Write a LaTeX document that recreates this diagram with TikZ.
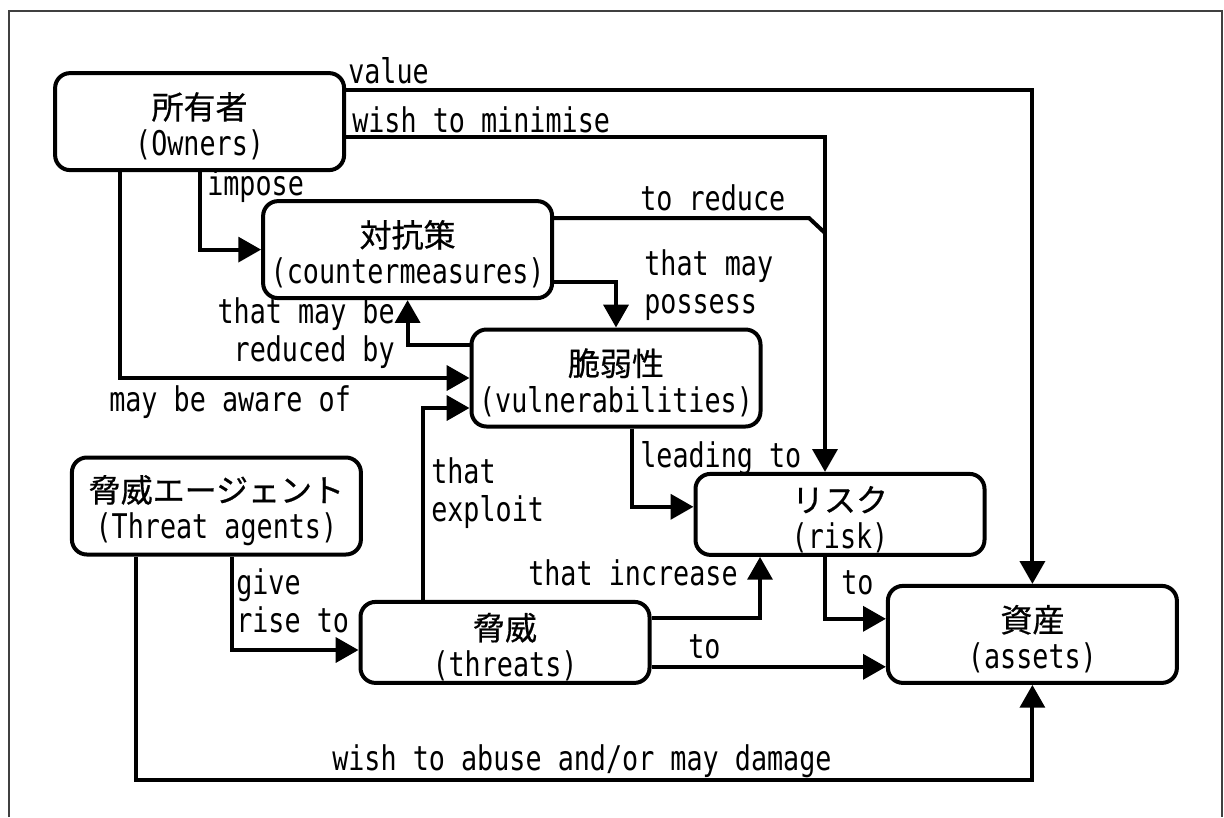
\documentclass[tikz,border=0pt]{standalone}
\usepackage{fontspec}
\newfontfamily\jafont[FakeBold=0.6]{Noto Sans CJK JP}
\newfontfamily\lafont[FakeStretch=0.787]{DejaVu Sans Mono}
\newcommand\ja[1]{\rule{0pt}{0.9cm}{\jafont\fontsize{22.76pt}{26pt}\selectfont #1}}
\usepackage{tikz}
\usetikzlibrary{shapes.geometric, arrows, calc, positioning, arrows.meta}
\tikzstyle{entity} = [draw=black, line width=0.1cm, rounded corners=0.375cm, minimum width=7.225cm, minimum height=2.425cm, inner sep=0pt, align=center, font=\lafont\fontsize{24.18pt}{26pt}\selectfont]
\tikzstyle{flat} = [entity, minimum height=2.025cm]
\tikzstyle{lbl} = [inner sep=0pt, font=\lafont\fontsize{24.18pt}{27pt}\selectfont]
\tikzstyle{line} = [line width=0.1cm]
\tikzstyle{arrow} = [line, -{Triangle[length=0.57cm, width=0.62cm]}]

\begin{document}
\begin{tikzpicture}
	\useasboundingbox (0,0) rectangle (30.6,-20.425);
	\draw[line width=0.05cm, black!75] (0.22,-20.425) -- (0.22,-0.275) -- (30.56,-0.275) -- (30.56,-20.425);

	\node[entity] (owners) at (4.99,-3.04) {\ja{所有者}\\(Owners)};
	\node[entity] (measures) at (10.19,-6.24) {\ja{対抗策}\\(countermeasures)};
	\node[entity] (vulns) at (15.4,-9.45) {\ja{脆弱性}\\(vulnerabilities)};
	\node[entity] (agents) at (5.41,-12.65) {\ja{脅威エージェント}\\(Threat agents)};
	\node[flat] (threats) at (12.625,-16.06) {\ja{脅威}\\(threats)};
	\node[flat] (risk) at (21.0,-12.86) {\ja{リスク}\\(risk)};
	\node[entity] (assets) at (25.81,-15.86) {\ja{資産}\\(assets)};

	% owners
	\draw[arrow] ([yshift=0.79cm]owners.east) -| (assets.north);
	\draw[arrow] ([yshift=-0.39cm]owners.east) -| ([xshift=-0.375cm]risk.north);
	\draw[arrow] (owners.south) |- (measures.west);
	\draw[arrow] ([xshift=-1.99cm]owners.south) |- (vulns.west);

	% countermeasures
	\coordinate (reduce) at ([yshift=0.79cm]measures.east);
	\coordinate (minimise) at ([xshift=-0.375cm]risk.north);
	\coordinate (merge) at ($(minimise |- reduce)+(0,-0.375)$);
	\draw[line] (reduce) -- ($(merge)+(-0.4,0.375)$) -- (merge);
	\draw[arrow] ([yshift=-0.81cm]measures.east) -| (vulns.north);

	% vulnerabilities
	\draw[arrow] ([yshift=0.825cm]vulns.west) -| (measures.south);
	\draw[arrow] ([xshift=0.4cm]vulns.south) |- ([yshift=0.19cm]risk.west);

	% threats
	\coordinate (toassets) at ([yshift=-0.61cm]threats.east);
	\draw[arrow] ([xshift=-2.05cm]threats.north) |- ([yshift=-0.75cm]vulns.west);
	\draw[arrow] ([yshift=0.61cm]threats.east) -| ([xshift=-2cm]risk.south);
	\draw[arrow] (toassets) -- (toassets -| assets.west);

	% risk
	\draw[arrow] ([xshift=-0.375cm]risk.south) |- ([yshift=0.39cm]assets.west);

	% threat agents
	\draw[arrow] ([xshift=0.39cm]agents.south) |- ([yshift=-0.19cm]threats.west);
	\draw[arrow] ([xshift=-2.01cm]agents.south) -- ++(0,-5.575) -| (assets.south);

	\node[lbl, anchor=base west] (lvalue) at (8.7,-2.075) {value};
	\node[lbl, anchor=base west] (lminimise) at (8.8,-3.3) {wish to minimise};
	\node[lbl, anchor=base west] (limpose) at (5.175,-4.875) {impose};
	\node[lbl, anchor=base west] (lreduce) at (16.0,-5.25) {to reduce};
	\node[lbl, anchor=north west, align=left] (lpossess) at (16.1,-6.23) {that may\\possess};
	\node[lbl, anchor=north east, align=right] (lreduced) at (9.875,-7.43) {that may be\\reduced by};
	\node[lbl, anchor=base west] (laware) at (2.725,-10.275) {may be aware of};
	\node[lbl, anchor=north west, align=left] (lexploit) at (10.775,-11.43) {that\\exploit};
	\node[lbl, anchor=base west] (lleading) at (16.0,-11.675) {leading to};
	\node[lbl, anchor=north west, align=left] (lgive) at (5.9,-14.2) {give\\rise to};
	\node[lbl, anchor=base west] (lincrease) at (13.2,-14.625) {that increase};
	\node[lbl, anchor=base west] (lriskto) at (21.025,-14.85) {to};
	\node[lbl, anchor=base west] (lthreatto) at (17.2,-16.45) {to};
	\node[lbl, anchor=base west] (labuse) at (8.3,-19.25) {wish to abuse and/or may damage};
\end{tikzpicture}
\end{document}
